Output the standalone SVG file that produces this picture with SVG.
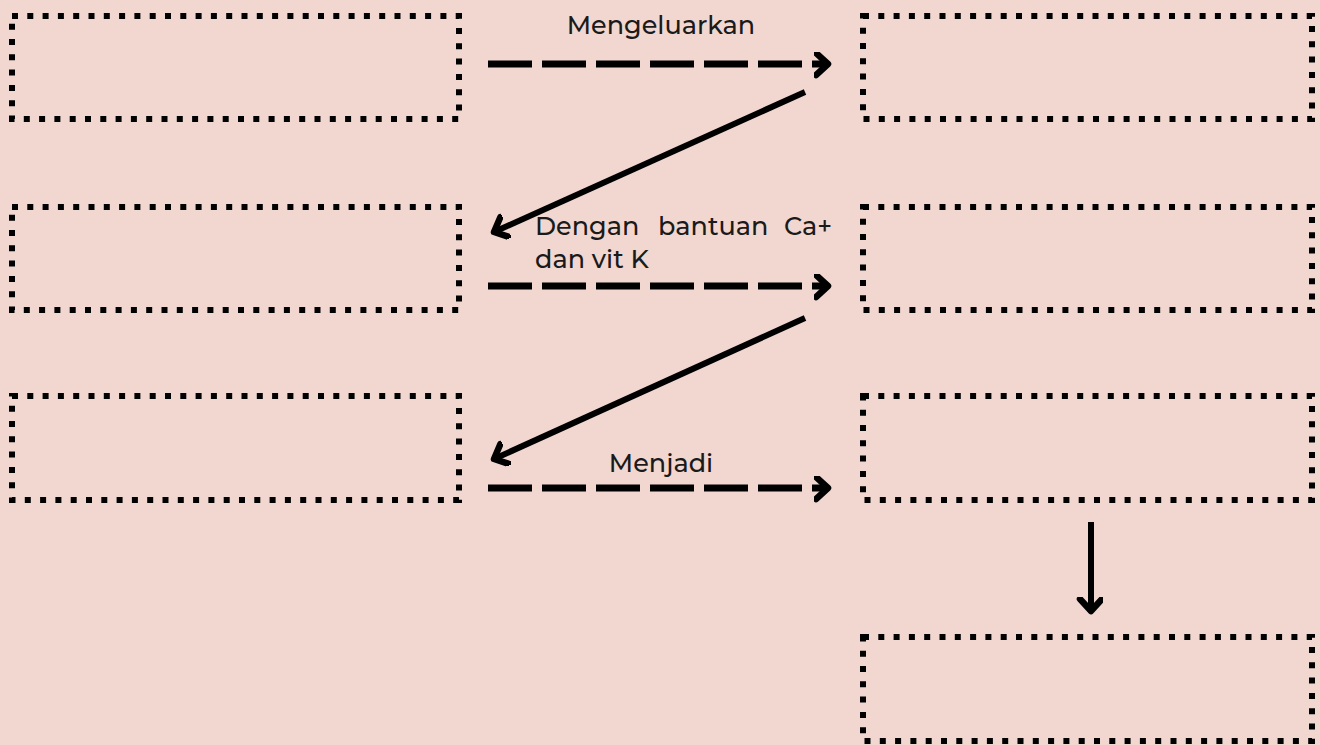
<svg xmlns="http://www.w3.org/2000/svg" width="1320" height="745" viewBox="0 0 1320 745">
<style>
.box{fill:none;stroke:#000;stroke-width:6;stroke-dasharray:6 9.3}
.dash{fill:none;stroke:#000;stroke-width:7;stroke-dasharray:44 10}
.solid{fill:none;stroke:#000;stroke-width:6}
.lbl{font-family:"Montserrat","Noto Sans","DejaVu Sans",sans-serif;font-size:25.5px;font-weight:500;fill:#1a1a1a}
</style>
<defs>
<marker id="ah" markerUnits="userSpaceOnUse" markerWidth="30" markerHeight="30" refX="14" refY="12" orient="auto" viewBox="0 0 30 30">
<path d="M2,1 L14,12 L2,23" fill="none" stroke="#000" stroke-width="6.5" stroke-linecap="round" stroke-linejoin="round"/>
</marker>
</defs>
<rect width="1320" height="745" fill="#F2D7D0"/>
<g id="n1"><rect class="box" x="12" y="16" width="447" height="103"/></g>
<g id="n2"><rect class="box" x="863" y="16" width="449" height="103"/></g>
<g id="n3"><rect class="box" x="12" y="207" width="447" height="103"/></g>
<g id="n4"><rect class="box" x="863" y="207" width="449" height="103"/></g>
<g id="n5"><rect class="box" x="12" y="396" width="447" height="104"/></g>
<g id="n6"><rect class="box" x="863" y="396" width="449" height="104"/></g>
<g id="n7"><rect class="box" x="863" y="637" width="449" height="104"/></g>
<g id="connectors">
<path class="dash" d="M488,64 L828,64" marker-end="url(#ah)"/>
<path class="solid" d="M805,92 L494,232" marker-end="url(#ah)"/>
<path class="dash" d="M488,286 L828,286" marker-end="url(#ah)"/>
<path class="solid" d="M805,318 L494,459" marker-end="url(#ah)"/>
<path class="dash" d="M488,488 L828,488" marker-end="url(#ah)"/>
<path class="solid" d="M1091,522 L1091,611" marker-end="url(#ah)"/>
</g>
<g id="labels">
<text class="lbl" x="661" y="34" text-anchor="middle">Mengeluarkan</text>
<text class="lbl" y="235"><tspan x="535">Dengan</tspan><tspan x="658">bantuan</tspan><tspan x="832" text-anchor="end">Ca+</tspan></text>
<text class="lbl" x="535" y="268">dan vit K</text>
<text class="lbl" x="661" y="472" text-anchor="middle">Menjadi</text>
</g>
</svg>
